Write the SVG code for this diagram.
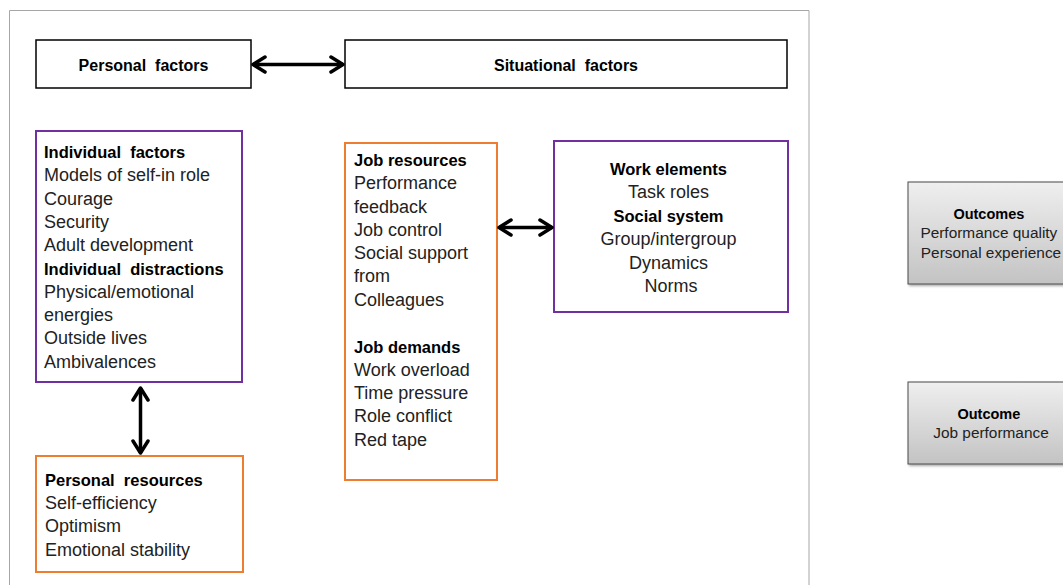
<svg xmlns="http://www.w3.org/2000/svg" width="1063" height="585" viewBox="0 0 1063 585">
  <defs>
    <style>
      .txt { font-family: "Liberation Sans", Arial, sans-serif; font-size: 18px; fill: #222; }
      .b { font-weight: bold; font-size: 16.5px; fill: #000; }
      .hdr { font-family: "Liberation Sans", Arial, sans-serif; font-size: 16px; font-weight: bold; fill: #000; }
      .out { font-family: "Liberation Sans", Arial, sans-serif; font-size: 15.4px; fill: #222; }
      .out .b { font-size: 14.5px; }
      .black { fill: #fff; stroke: #000; stroke-width: 1.5; }
      .purple { fill: #fff; stroke: #7030A0; stroke-width: 2; }
      .orange { fill: #fff; stroke: #ED7D31; stroke-width: 2; }
      .grey { fill: url(#greyFill); stroke: #4a4a4a; stroke-width: 1; filter: url(#shadow); }
      .conn { stroke: #000; stroke-width: 3.5; fill: none; marker-start: url(#head); marker-end: url(#head); }
    </style>
    <linearGradient id="greyFill" x1="0" y1="0" x2="0" y2="1">
      <stop offset="0" stop-color="#efefef"/>
      <stop offset="1" stop-color="#c3c3c3"/>
    </linearGradient>
    <filter id="shadow" x="-10%" y="-10%" width="130%" height="130%">
      <feDropShadow dx="1.5" dy="1.5" stdDeviation="1.2" flood-color="#000" flood-opacity="0.35"/>
    </filter>
    <!-- open chevron arrowhead, reused at both ends of every connector -->
    <marker id="head" viewBox="0 0 18 20" refX="15" refY="10" markerWidth="18" markerHeight="20" markerUnits="userSpaceOnUse" orient="auto-start-reverse">
      <path d="M3,2.5 L15,10 L3,17.5" fill="none" stroke="#000" stroke-width="3.5" stroke-linecap="round" stroke-linejoin="round"/>
    </marker>
  </defs>

  <rect width="1063" height="585" fill="#fff"/>
  <!-- slide frame -->
  <path d="M9.5,590 V10.5 H809 V590" fill="none" stroke="#a6a6a6" stroke-width="1"/>

  <g id="personal-factors">
    <rect class="black" x="36" y="40" width="215" height="48"/>
    <text class="hdr" x="143.5" y="71" text-anchor="middle">Personal&#160; factors</text>
  </g>

  <g id="situational-factors">
    <rect class="black" x="345" y="40" width="442" height="48"/>
    <text class="hdr" x="566" y="71" text-anchor="middle">Situational&#160; factors</text>
  </g>

  <g id="individual-factors">
    <rect class="purple" x="36" y="131" width="206" height="251"/>
    <text class="txt" x="44">
      <tspan class="b" x="44" y="158">Individual&#160; factors</tspan>
      <tspan x="44" y="181">Models of self-in role</tspan>
      <tspan x="44" y="204.5">Courage</tspan>
      <tspan x="44" y="228">Security</tspan>
      <tspan x="44" y="251">Adult development</tspan>
      <tspan class="b" x="44" y="274.5">Individual&#160; distractions</tspan>
      <tspan x="44" y="297.5">Physical/emotional</tspan>
      <tspan x="44" y="321">energies</tspan>
      <tspan x="44" y="344">Outside lives</tspan>
      <tspan x="44" y="367.5">Ambivalences</tspan>
    </text>
  </g>

  <g id="personal-resources">
    <rect class="orange" x="36" y="456" width="207" height="116"/>
    <text class="txt" x="45">
      <tspan class="b" x="45" y="486">Personal&#160; resources</tspan>
      <tspan x="45" y="509">Self-efficiency</tspan>
      <tspan x="45" y="532">Optimism</tspan>
      <tspan x="45" y="555.5">Emotional stability</tspan>
    </text>
  </g>

  <g id="job-resources-demands">
    <rect class="orange" x="345" y="143" width="152" height="337"/>
    <text class="txt" x="354">
      <tspan class="b" x="354" y="166">Job resources</tspan>
      <tspan x="354" y="189">Performance</tspan>
      <tspan x="354" y="212.5">feedback</tspan>
      <tspan x="354" y="235.5">Job control</tspan>
      <tspan x="354" y="259">Social support</tspan>
      <tspan x="354" y="282">from</tspan>
      <tspan x="354" y="305.5">Colleagues</tspan>
      <tspan class="b" x="354" y="352.5">Job demands</tspan>
      <tspan x="354" y="375.5">Work overload</tspan>
      <tspan x="354" y="399">Time pressure</tspan>
      <tspan x="354" y="422">Role conflict</tspan>
      <tspan x="354" y="445.5">Red tape</tspan>
    </text>
  </g>

  <g id="work-elements">
    <rect class="purple" x="554" y="141" width="234" height="171"/>
    <text class="txt" text-anchor="middle">
      <tspan class="b" x="671" y="175">Work elements</tspan>
      <tspan x="671" y="198">Task roles</tspan>
      <tspan class="b" x="671" y="222">Social system</tspan>
      <tspan x="671" y="245">Group/intergroup</tspan>
      <tspan x="671" y="268.5">Dynamics</tspan>
      <tspan x="671" y="291.5">Norms</tspan>
    </text>
  </g>

  <g id="outcomes">
    <rect class="grey" x="908" y="182" width="166" height="102"/>
    <text class="out" text-anchor="middle">
      <tspan class="b" x="991" y="218.5">Outcomes</tspan>
      <tspan x="991" y="238">Performance quality</tspan>
      <tspan x="991" y="257.5">Personal experience</tspan>
    </text>
  </g>

  <g id="outcome-job-performance">
    <rect class="grey" x="908" y="382" width="166" height="82"/>
    <text class="out" text-anchor="middle">
      <tspan class="b" x="991" y="418.5">Outcome</tspan>
      <tspan x="991" y="438">Job performance</tspan>
    </text>
  </g>

  <g id="connectors">
    <line class="conn" x1="253" y1="64.5" x2="343" y2="64.5"/>
    <line class="conn" x1="140.5" y1="388" x2="140.5" y2="453"/>
    <line class="conn" x1="499" y1="227.5" x2="552" y2="227.5"/>
  </g>
</svg>
